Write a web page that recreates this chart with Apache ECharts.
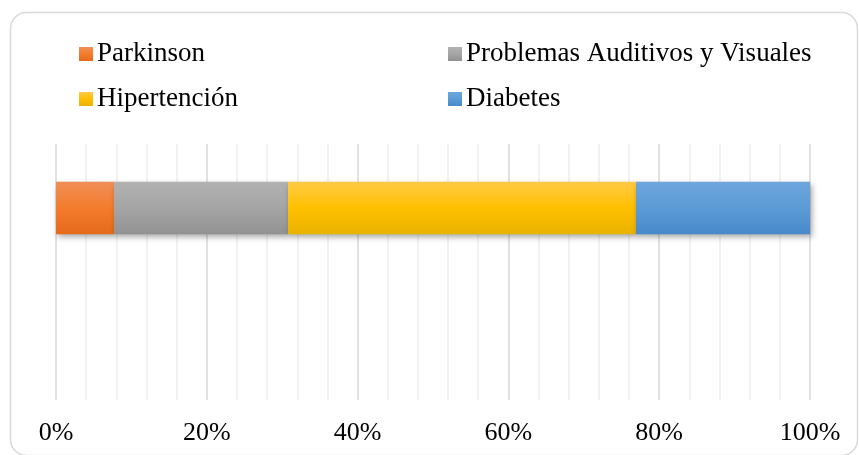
<!DOCTYPE html>
<html>
<head>
<meta charset="utf-8">
<script src="https://cdn.jsdelivr.net/npm/echarts@6/dist/echarts.min.js"></script>
<style>
html,body{margin:0;padding:0;background:#fff;}
#chart{width:859px;height:455px;}
</style>
</head>
<body>
<div id="chart"></div>
<script>
// Data (percent of the 100% stacked bar)
const categories = ['1', '2'];
const seriesNames = ['Parkinson', 'Problemas Auditivos y Visuales', 'Hipertención', 'Diabetes'];
const parkinson = [7.69, '-'];
const auditivosVisuales = [23.08, '-'];
const hipertencion = [46.15, '-'];
const diabetes = [23.08, '-'];
const tickLabels = ['0%', '20%', '40%', '60%', '80%', '100%'];

const seriesValues = [parkinson, auditivosVisuales, hipertencion, diabetes];
const gradients = [
  ['#F08E58', '#F47C2C', '#E46A1A'],
  ['#B2B2B2', '#A5A5A5', '#929292'],
  ['#FFCA45', '#FFC000', '#E9B300'],
  ['#6EA6DD', '#5B9BD5', '#4889CB']
];
function grad(c) {
  return new echarts.graphic.LinearGradient(0, 0, 0, 1, [
    {offset: 0, color: c[0]}, {offset: 0.5, color: c[1]}, {offset: 1, color: c[2]}
  ]);
}

const chart = echarts.init(document.getElementById('chart'), null, {renderer: 'canvas'});
const font = '"Liberation Serif", "Times New Roman", serif';

const legendBase = {
  orient: 'vertical', top: 34, padding: 5,
  icon: 'rect', itemWidth: 14, itemHeight: 14, itemGap: 15,
  textStyle: {fontFamily: font, fontSize: 27, color: '#000', lineHeight: 30, padding: [0,0,0,-1]}
};

const option = {
  animation: false,
  backgroundColor: '#fff',
  graphic: [{
    type: 'rect',
    shape: {x: 10.5, y: 12.5, width: 847, height: 443, r: 16},
    style: {fill: 'none', stroke: '#d9d9d9', lineWidth: 1.5},
    z: -1
  }],
  legend: [
    Object.assign({}, legendBase, {left: 74, data: [seriesNames[0], seriesNames[2]]}),
    Object.assign({}, legendBase, {left: 443, data: [seriesNames[1], seriesNames[3]]})
  ],
  grid: {left: 56, right: 49, top: 144, bottom: 55, containLabel: false},
  xAxis: {
    type: 'value', min: 0, max: 100, interval: 20,
    axisLine: {show: false}, axisTick: {show: false},
    axisLabel: {
      fontFamily: font, fontSize: 26, color: '#000', margin: 20,
      formatter: function (v) { return tickLabels[Math.round(v / 20)]; }
    },
    splitLine: {show: true, lineStyle: {color: '#d9d9d9', width: 1.5}},
    minorTick: {show: false, splitNumber: 5},
    minorSplitLine: {show: true, lineStyle: {color: '#eeeeee', width: 1.5}}
  },
  yAxis: {
    type: 'category', inverse: true, data: categories,
    axisLine: {show: false}, axisTick: {show: false}, axisLabel: {show: false},
    splitLine: {show: false}
  },
  series: seriesNames.map(function (name, i) {
    return {
      name: name, type: 'bar', stack: 'total',
      barCategoryGap: '59%',
      data: seriesValues[i],
      itemStyle: {
        color: grad(gradients[i]),
        shadowBlur: 6, shadowOffsetX: 2, shadowOffsetY: 3,
        shadowColor: 'rgba(0,0,0,0.35)'
      }
    };
  })
};
chart.setOption(option);
</script>
</body>
</html>
